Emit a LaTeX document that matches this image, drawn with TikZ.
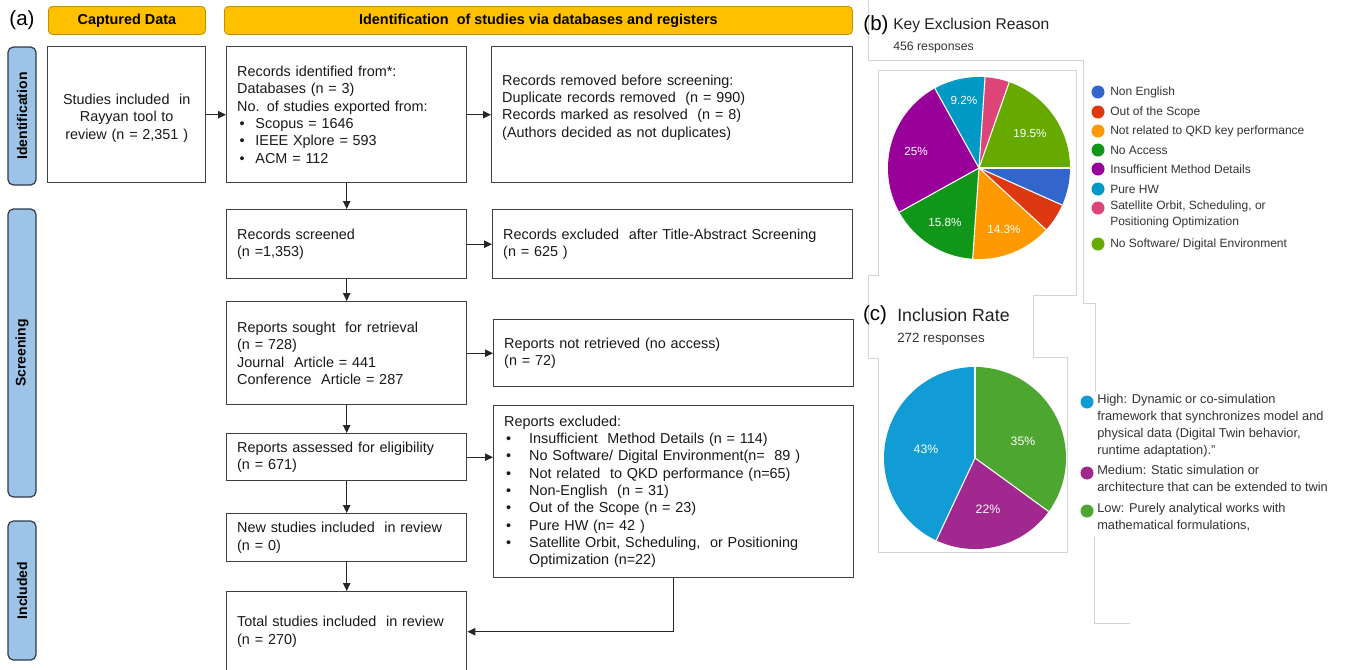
\documentclass[tikz,border=0pt]{standalone}
\usepackage{fontspec}
\setmainfont{Liberation Sans}
\usetikzlibrary{arrows.meta}
\newdimen\pxu \pxu=0.75pt
\definecolor{hdrfill}{HTML}{FFC000}
\definecolor{hdrline}{HTML}{BF9000}
\definecolor{sidefill}{HTML}{9DC3E6}
\definecolor{sideline}{HTML}{2F3B4A}
\definecolor{boxline}{HTML}{404040}
\definecolor{frameline}{HTML}{D4D4D4}
\definecolor{gtitle}{HTML}{212121}
\definecolor{gtext}{HTML}{333333}
\definecolor{gblue}{HTML}{3366CC}
\definecolor{gred}{HTML}{DC3912}
\definecolor{gorange}{HTML}{FF9900}
\definecolor{ggreen}{HTML}{109618}
\definecolor{gpurple}{HTML}{990099}
\definecolor{gcyan}{HTML}{0099C6}
\definecolor{gpink}{HTML}{DD4477}
\definecolor{glime}{HTML}{66AA00}
\definecolor{rcyan}{HTML}{129CD6}
\definecolor{rpurple}{HTML}{A1288F}
\definecolor{rgreen}{HTML}{4DA62F}
\begin{document}
\begin{tikzpicture}[x=0.75pt, y=-0.75pt,
  font=\fontsize{10.8}{13}\selectfont,
  hdr/.style={draw=hdrline, fill=hdrfill, rounded corners=3pt, line width=0.6pt,
    font=\bfseries\fontsize{10.8}{13}\selectfont, inner sep=0pt, anchor=north west},
  side/.style={draw=sideline, fill=sidefill, rounded corners=4pt, line width=0.9pt,
    rotate=90, font=\bfseries\fontsize{10.5}{13}\selectfont, inner sep=0pt,
    minimum height=28\pxu},
  fbox/.style={draw=boxline, line width=1.05pt, anchor=north west, inner xsep=10.5\pxu,
    inner ysep=0pt, align=left, text=black!90},
  flow/.style={-{Triangle[length=6pt,width=5.5pt]}, draw=black!85, line width=0.9pt},
  frame/.style={draw=frameline, line width=0.5pt},
  dot/.style={circle, inner sep=0pt, minimum size=13\pxu},
  pct/.style={text=white, font=\fontsize{8.8}{10}\selectfont, inner sep=0pt},
  legb/.style={text=gtext, font=\fontsize{9}{12}\selectfont, anchor=west, inner sep=0pt, align=left},
  legc/.style={text=gtext, font=\fontsize{9.6}{12.75}\selectfont, anchor=west, inner sep=0pt, align=left}
]
\useasboundingbox (0,0) rectangle (1366,669);
\fill[white] (0,0) rectangle (1366,669);

% ---------- (a) PRISMA flow ----------
\node[font=\fontsize{15.4}{18}\selectfont, inner sep=0pt] (lbla) at (22,20) {(a)};
\node[hdr, minimum width=157\pxu, minimum height=28\pxu] (hcap) at (48,6) {Captured Data};
\node[hdr, minimum width=628\pxu, minimum height=28\pxu] (hid) at (224,6) {Identification\ \ of studies via databases and registers};

\node[side, minimum width=138\pxu] (sident) at (22,116) {Identification};
\node[side, minimum width=288\pxu] (sscreen) at (22,353) {Screening};
\node[side, minimum width=139\pxu] (sincl) at (22,590.5) {Included};

\node[fbox, align=center, text width=137\pxu, minimum height=136\pxu] (cap) at (47,46)
  {\mbox{}\\Studies included\ \ in\\Rayyan tool to\\review (n = 2,351 )};
\node[fbox, text width=219\pxu, minimum height=136\pxu] (idf) at (226,46)
  {Records identified from*:\\
   Databases (n = 3)\\
   No. of studies exported from:\\
   \hspace*{2.3\pxu}\makebox[16\pxu][l]{•}Scopus = 1646\\
   \hspace*{2.3\pxu}\makebox[16\pxu][l]{•}IEEE Xplore = 593\\
   \hspace*{2.3\pxu}\makebox[16\pxu][l]{•}ACM = 112};
\node[fbox, text width=340\pxu, minimum height=136\pxu] (rem) at (491,46)
  {Records removed before screening:\\
   Duplicate records removed\ \ (n = 990)\\
   Records marked as resolved\ \ (n = 8)\\
   (Authors decided as not duplicates)\\ \mbox{}};

\node[fbox, text width=219\pxu, minimum height=69\pxu] (scr) at (226,209)
  {Records screened\\(n =1,353)};
\node[fbox, text width=339\pxu, minimum height=69\pxu] (exa) at (492,209)
  {Records excluded\ \ after Title-Abstract Screening\\(n = 625 )};

\node[fbox, text width=219\pxu, minimum height=103\pxu] (sought) at (226,301)
  {Reports sought\ \ for retrieval\\(n = 728)\\Journal\ \ Article = 441\\Conference\ \ Article = 287};
\node[fbox, text width=339\pxu, minimum height=67\pxu] (notret) at (493,319)
  {Reports not retrieved (no access)\\(n = 72)};

\node[fbox, text width=219\pxu, minimum height=47\pxu] (asd) at (226,433)
  {Reports assessed for eligibility\\(n = 671)};
\node[fbox, text width=339\pxu, minimum height=172\pxu] (excl) at (493,405)
  {Reports excluded:\\
   \hspace*{2\pxu}\makebox[23\pxu][l]{•}Insufficient\ \ Method Details (n = 114)\\
   \hspace*{2\pxu}\makebox[23\pxu][l]{•}No Software/ Digital Environment(n=\ \ 89 )\\
   \hspace*{2\pxu}\makebox[23\pxu][l]{•}Not related\ \ to QKD performance (n=65)\\
   \hspace*{2\pxu}\makebox[23\pxu][l]{•}Non-English\ \ (n = 31)\\
   \hspace*{2\pxu}\makebox[23\pxu][l]{•}Out of the Scope (n = 23)\\
   \hspace*{2\pxu}\makebox[23\pxu][l]{•}Pure HW (n= 42 )\\
   \hspace*{2\pxu}\makebox[23\pxu][l]{•}Satellite Orbit, Scheduling,\ \ or Positioning\\
   \hspace*{25\pxu}Optimization (n=22)};

\node[fbox, text width=219\pxu, minimum height=48\pxu] (newst) at (226,513)
  {New studies included\ \ in review\\(n = 0)};
\node[fbox, text width=219\pxu, minimum height=80\pxu] (total) at (226,591)
  {Total studies included\ \ in review\\(n = 270)};

\draw[flow] (cap) -- (idf);
\draw[flow] (idf) -- (rem);
\draw[flow] (idf) -- (scr);
\draw[flow] (scr) -- (exa);
\draw[flow] (scr) -- (sought);
\draw[flow] (sought) -- (notret);
\draw[flow] (sought) -- (asd);
\draw[flow] (asd.east) -- (asd.east -| excl.west);
\draw[flow] (asd) -- (newst);
\draw[flow] (newst) -- (total);
\draw[flow] (excl.south) |- (total.east);

% ---------- chart panel outlines ----------
\draw[frame] (868,0) -- (868,60) -- (1083,60) -- (1083,303) -- (1095,303) -- (1095,392);
\draw[frame] (878,70) -- (1076,70) -- (1076,295) -- (1033,295) -- (1033,357) -- (1067,357) -- (1067,552) -- (878,552) -- (878,358) -- (868,358) -- (868,275) -- (878,275) -- cycle;
\draw[frame] (1094,537) -- (1094,623) -- (1130,623);

% ---------- (b) Key Exclusion Reason ----------
\node[font=\fontsize{15.4}{18}\selectfont, inner sep=0pt] (lblb) at (876,25) {(b)};
\node[text=gtitle, font=\fontsize{11.7}{13}\selectfont, anchor=west, inner sep=0pt] (tb) at (893,25) {Key Exclusion Reason};
\node[text=gtext, font=\fontsize{9.2}{11}\selectfont, anchor=west, inner sep=0pt] (rb) at (893,47) {456 responses};

\coordinate (pb) at (979,168);
\foreach \a/\b/\c in {0/24/gblue, 24/42.6/gred, 42.6/94/gorange, 94/151/ggreen,
                      151/241/gpurple, 241/273.8/gcyan, 273.8/289.4/gpink, 289.4/360/glime}
  \fill[\c] (pb) -- ([shift={(\a:91)}]pb) arc[start angle=\a, end angle=\b, radius=91] -- cycle;
\foreach \a in {0,24,42.6,94,151,241,273.8,289.4}
  \draw[white, line width=0.8pt] (pb) -- ([shift={(\a:91)}]pb);

\node[pct] (pb1) at (964,100) {9.2\%};
\node[pct] (pb2) at (1030,133) {19.5\%};
\node[pct] (pb3) at (916,151) {25\%};
\node[pct] (pb4) at (945,222) {15.8\%};
\node[pct] (pb5) at (1004,229) {14.3\%};

\foreach \y/\c/\t [count=\i] in {92/gblue/Non English, 112/gred/Out of the Scope,
    131/gorange/Not related to QKD key performance, 150/ggreen/No Access,
    169/gpurple/Insufficient Method Details, 189/gcyan/Pure HW} {
  \node[dot, fill=\c] (db\i) at (1098,\y) {};
  \node[legb] (tb\i) at (1110,\y) {\t};
}
\node[dot, fill=gpink] (db7) at (1098,208) {};
\node[legb, anchor=north west] (tb7) at (1110,201) {Satellite Orbit, Scheduling, or\\Positioning Optimization};
\node[dot, fill=glime] (db8) at (1098,244) {};
\node[legb] (tb8) at (1110,244) {No Software/ Digital Environment};

% ---------- (c) Inclusion Rate ----------
\node[font=\fontsize{15.4}{18}\selectfont, inner sep=0pt] (lblc) at (875,315) {(c)};
\node[text=gtitle, font=\fontsize{13.3}{15}\selectfont, anchor=west, inner sep=0pt] (tc) at (897,315) {Inclusion Rate};
\node[text=gtext, font=\fontsize{10}{12}\selectfont, anchor=west, inner sep=0pt] (rc) at (897,339) {272 responses};

\coordinate (pc) at (975,458);
\foreach \a/\b/\c in {-90/36/rgreen, 36/115.2/rpurple, 115.2/270/rcyan}
  \fill[\c] (pc) -- ([shift={(\a:91)}]pc) arc[start angle=\a, end angle=\b, radius=91] -- cycle;
\foreach \a in {-90,36,115.2}
  \draw[white, line width=0.8pt] (pc) -- ([shift={(\a:91)}]pc);

\node[pct, font=\fontsize{9.2}{11}\selectfont] (pc1) at (926,449) {43\%};
\node[pct, font=\fontsize{9.2}{11}\selectfont] (pc2) at (1023,441) {35\%};
\node[pct, font=\fontsize{9.2}{11}\selectfont] (pc3) at (988,509) {22\%};

\node[dot, fill=rcyan] (dc1) at (1087,402) {};
\node[legc, anchor=north west] (lc1) at (1097,394) {High: Dynamic or co-simulation\\framework that synchronizes model and\\physical data (Digital Twin behavior,\\runtime adaptation)."};
\node[dot, fill=rpurple] (dc2) at (1087,473) {};
\node[legc, anchor=north west] (lc2) at (1097,465) {Medium: Static simulation or\\architecture that can be extended to twin};
\node[dot, fill=rgreen] (dc3) at (1087,511) {};
\node[legc, anchor=north west] (lc3) at (1097,503) {Low: Purely analytical works with\\mathematical formulations,};
\end{tikzpicture}
\end{document}
